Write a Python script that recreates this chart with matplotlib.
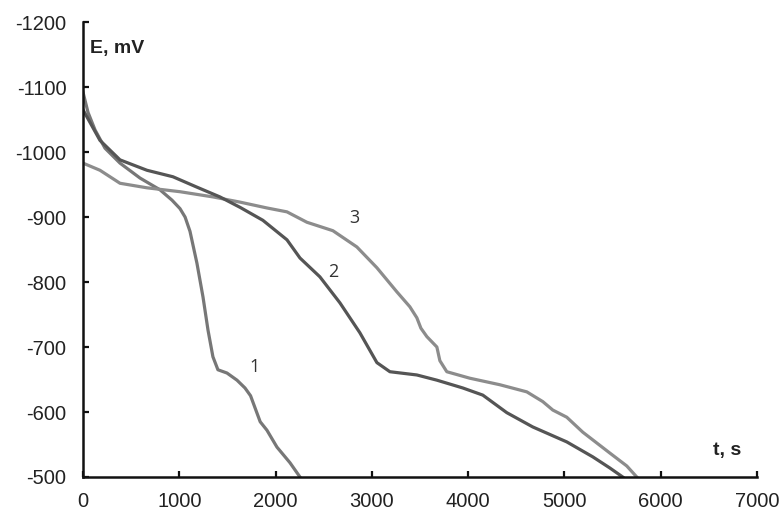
import matplotlib
matplotlib.use("Agg")
import matplotlib.pyplot as plt

# curve 1
t1 = [0, 52, 125, 228, 384, 592, 799, 924, 1007, 1060, 1111, 1183, 1246, 1298, 1349,
      1401, 1495, 1599, 1682, 1740, 1790, 1840, 1910, 2014, 2149, 2253]
e1 = [-1092, -1061, -1034, -1006, -983, -960, -942, -926, -913, -900, -878, -829, -777,
      -726, -685, -665, -660, -649, -637, -625, -605, -585, -572, -546, -522, -500]

# curve 2
t2 = [0, 176, 384, 664, 934, 1183, 1422, 1630, 1868, 2118, 2253, 2460, 2668, 2875,
      3052, 3187, 3467, 3675, 3944, 4152, 4401, 4671, 5024, 5294, 5470, 5605]
e2 = [-1065, -1018, -988, -972, -962, -946, -931, -915, -895, -865, -837, -808,
      -768, -722, -676, -662, -657, -649, -637, -626, -599, -577, -554, -531, -514, -500]

# curve 3
t3 = [0, 176, 384, 664, 1007, 1349, 1630, 1910, 2118, 2325, 2595, 2844, 3052, 3259,
      3394, 3467, 3509, 3571, 3675, 3706, 3778, 4017, 4328, 4609, 4775, 4879, 5024,
      5190, 5470, 5647, 5751]
e3 = [-983, -972, -952, -945, -939, -931, -923, -914, -908, -892, -879, -854, -822,
      -785, -762, -745, -729, -716, -700, -679, -662, -652, -642, -631, -616, -603,
      -592, -569, -537, -517, -500]

curve_labels = ["1", "2", "3"]
label_t = [1785, 2600, 2823]
label_e = [-669, -816, -899]

x_ticks = [0, 1000, 2000, 3000, 4000, 5000, 6000, 7000]
y_ticks = [-1200, -1100, -1000, -900, -800, -700, -600, -500]

plt.rcParams['font.family'] = ['Liberation Sans', 'DejaVu Sans']
plt.rcParams['axes.unicode_minus'] = False

fig = plt.figure(figsize=(7.84, 5.14), dpi=100)
ax = fig.add_axes([0.1059, 0.072, 0.8597, 0.885])

ax.plot(t1, e1, color='#777777', lw=2.3, solid_joinstyle='round')
ax.plot(t3, e3, color='#8c8c8c', lw=2.3, solid_joinstyle='round')
ax.plot(t2, e2, color='#555555', lw=2.3, solid_joinstyle='round')

for lab, tx, ey in zip(curve_labels, label_t, label_e):
    ax.text(tx, ey, lab, fontsize=13, color='#333333', family=['Open Sans', 'DejaVu Sans'],
            ha='center', va='center')

ax.set_xlim(0, 7000)
ax.set_ylim(-500, -1200)
ax.set_xticks(x_ticks)
ax.set_yticks(y_ticks)

for s in ['top', 'right']:
    ax.spines[s].set_visible(False)
for s in ['left', 'bottom']:
    ax.spines[s].set_linewidth(1.8)
    ax.spines[s].set_color('#111111')

ax.tick_params(direction='in', length=4, width=1.6, colors='#111111',
               labelsize=14.5, labelcolor='#222222')
ax.tick_params(axis='x', pad=11)
ax.tick_params(axis='y', pad=12)

fig.text(90 / 784, 1 - 48 / 514, "E, mV", fontsize=14, fontweight='bold',
         color='#222222', ha='left', va='center')
fig.text(727 / 784, 1 - 450 / 514, "t, s", fontsize=14, fontweight='bold',
         color='#222222', ha='center', va='center')

fig.savefig("out.png", dpi=100)
